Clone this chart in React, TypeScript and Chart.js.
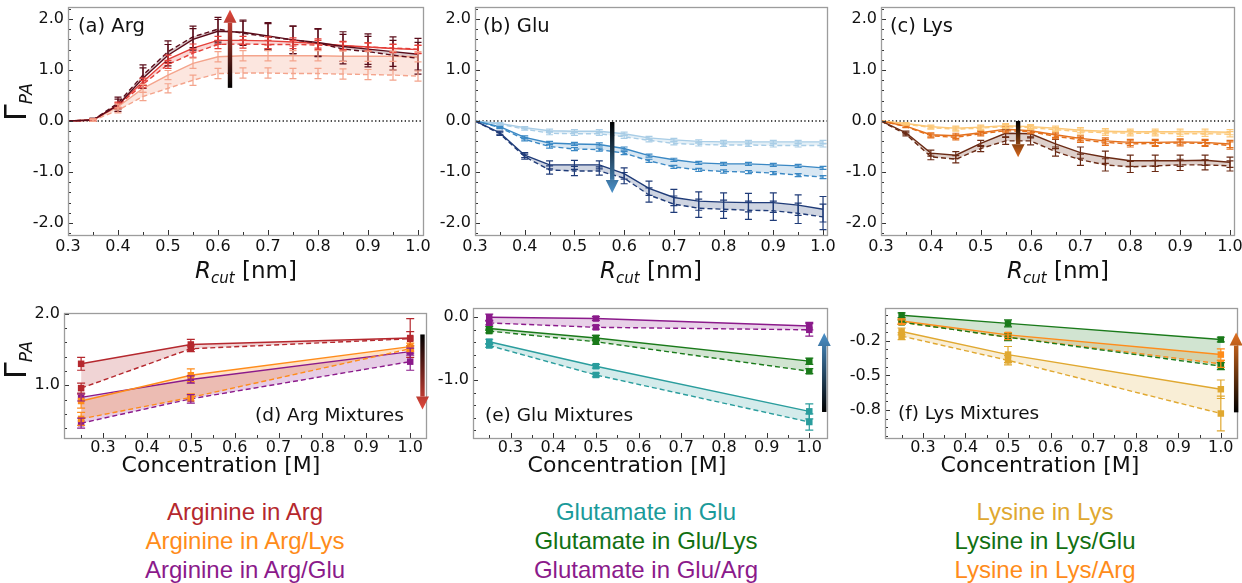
import React, { useEffect, useRef } from "react";
import { Chart, registerables } from "chart.js";

Chart.register(...registerables);

const TICK_FONT = "'DejaVu Sans', 'Liberation Sans', sans-serif";
const LEGEND_FONT = "'Liberation Sans', Arial, sans-serif";

// ---------------- data: panels (a)-(c), Gamma_PA vs R_cut ----------------
const rcut = [0.3, 0.35, 0.4, 0.45, 0.5, 0.55, 0.6, 0.65, 0.7, 0.75, 0.8, 0.85, 0.9, 0.95, 1.0];
const rcutTickLabels = [0.3, 0.4, 0.5, 0.6, 0.7, 0.8, 0.9, 1.0];
const gammaTickLabels = [-2.0, -1.0, 0.0, 1.0, 2.0];

// (a) Arg
const argLowSolid = [0, 0.02, 0.28, 0.64, 0.9, 1.13, 1.26, 1.28, 1.28, 1.28, 1.28, 1.27, 1.27, 1.27, 1.26];
const argLowDashed = [0, 0.01, 0.21, 0.48, 0.64, 0.8, 0.93, 0.94, 0.94, 0.93, 0.93, 0.92, 0.91, 0.9, 0.88];
const argLowErr = [0, 0.02, 0.05, 0.08, 0.09, 0.1, 0.1, 0.1, 0.1, 0.1, 0.1, 0.1, 0.1, 0.1, 0.1];
const argMidSolid = [0, 0.02, 0.32, 0.77, 1.21, 1.43, 1.58, 1.58, 1.57, 1.55, 1.52, 1.48, 1.45, 1.42, 1.4];
const argMidDashed = [0, 0.02, 0.3, 0.72, 1.11, 1.33, 1.5, 1.51, 1.5, 1.5, 1.49, 1.47, 1.45, 1.43, 1.41];
const argMidErr = [0, 0.02, 0.05, 0.07, 0.08, 0.08, 0.08, 0.08, 0.08, 0.08, 0.09, 0.08, 0.08, 0.08, 0.08];
const argHighSolid = [0, 0.02, 0.31, 0.84, 1.29, 1.6, 1.76, 1.74, 1.67, 1.59, 1.54, 1.46, 1.41, 1.36, 1.31];
const argHighDashed = [0, 0.02, 0.35, 0.9, 1.36, 1.65, 1.8, 1.72, 1.65, 1.59, 1.53, 1.41, 1.36, 1.29, 1.23];
const argHighErr = [0, 0.03, 0.12, 0.2, 0.21, 0.21, 0.23, 0.24, 0.26, 0.27, 0.27, 0.29, 0.3, 0.29, 0.31];

// (b) Glu
const gluLowSolid = [0, -0.05, -0.13, -0.19, -0.2, -0.2, -0.25, -0.33, -0.37, -0.4, -0.41, -0.41, -0.41, -0.41, -0.41];
const gluLowDashed = [0, -0.06, -0.16, -0.24, -0.25, -0.25, -0.31, -0.38, -0.44, -0.46, -0.47, -0.47, -0.48, -0.48, -0.48];
const gluLowErr = [0, 0.02, 0.02, 0.03, 0.03, 0.03, 0.03, 0.03, 0.03, 0.03, 0.03, 0.03, 0.03, 0.03, 0.03];
const gluMidSolid = [0, -0.11, -0.32, -0.43, -0.45, -0.46, -0.54, -0.68, -0.76, -0.82, -0.84, -0.84, -0.86, -0.88, -0.92];
const gluMidDashed = [0, -0.13, -0.36, -0.5, -0.55, -0.56, -0.63, -0.78, -0.9, -0.96, -0.99, -1.0, -1.02, -1.06, -1.1];
const gluMidErr = [0, 0.02, 0.03, 0.03, 0.03, 0.03, 0.03, 0.03, 0.03, 0.03, 0.03, 0.03, 0.03, 0.03, 0.03];
const gluHighSolid = [0, -0.23, -0.67, -0.86, -0.86, -0.86, -1.03, -1.32, -1.5, -1.57, -1.59, -1.6, -1.6, -1.65, -1.73];
const gluHighDashed = [0, -0.25, -0.7, -0.96, -0.98, -0.98, -1.12, -1.45, -1.63, -1.71, -1.73, -1.75, -1.76, -1.81, -1.88];
const gluHighErr = [0, 0.03, 0.05, 0.08, 0.09, 0.08, 0.11, 0.14, 0.16, 0.18, 0.18, 0.18, 0.19, 0.2, 0.25];

// (c) Lys
const lysLowSolid = [0, -0.05, -0.11, -0.14, -0.12, -0.09, -0.11, -0.14, -0.18, -0.2, -0.21, -0.21, -0.21, -0.21, -0.22];
const lysLowDashed = [0, -0.06, -0.13, -0.16, -0.14, -0.11, -0.13, -0.17, -0.21, -0.23, -0.24, -0.24, -0.25, -0.25, -0.26];
const lysLowErr = [0, 0.02, 0.03, 0.04, 0.04, 0.04, 0.04, 0.04, 0.05, 0.05, 0.05, 0.05, 0.05, 0.05, 0.05];
const lysMidSolid = [0, -0.1, -0.27, -0.29, -0.23, -0.16, -0.19, -0.27, -0.34, -0.39, -0.42, -0.42, -0.41, -0.42, -0.45];
const lysMidDashed = [0, -0.11, -0.29, -0.32, -0.25, -0.19, -0.21, -0.3, -0.37, -0.42, -0.45, -0.44, -0.43, -0.44, -0.48];
const lysMidErr = [0, 0.02, 0.04, 0.05, 0.04, 0.04, 0.04, 0.05, 0.05, 0.06, 0.06, 0.06, 0.06, 0.06, 0.07];
const lysHighSolid = [0, -0.23, -0.63, -0.67, -0.44, -0.24, -0.25, -0.45, -0.62, -0.71, -0.78, -0.78, -0.78, -0.77, -0.81];
const lysHighDashed = [0, -0.26, -0.7, -0.75, -0.54, -0.39, -0.39, -0.6, -0.76, -0.86, -0.9, -0.88, -0.86, -0.86, -0.88];
const lysHighErr = [0, 0.03, 0.06, 0.07, 0.06, 0.07, 0.08, 0.09, 0.11, 0.12, 0.11, 0.11, 0.11, 0.1, 0.1];

// ---------------- data: panels (d)-(f), Gamma_PA vs concentration ----------------
const concentration = [0.25, 0.5, 1.0];
const concTickLabels = [0.3, 0.4, 0.5, 0.6, 0.7, 0.8, 0.9, 1.0];
const argMixTickLabels = [1.0, 2.0];
const gluMixTickLabels = [-1.0, 0.0];
const lysMixTickLabels = [-0.8, -0.5, -0.2];

// (d) Arg mixtures
const argInArgSolid = [1.3, 1.57, 1.66];
const argInArgSolidErr = [0.09, 0.07, 0.27];
const argInArgDashed = [0.96, 1.51, 1.65];
const argInArgDashedErr = [0.07, 0.04, 0.1];
const argInArgLysSolid = [0.78, 1.14, 1.54];
const argInArgLysSolidErr = [0.1, 0.09, 0.05];
const argInArgLysDashed = [0.53, 0.83, 1.51];
const argInArgLysDashedErr = [0.09, 0.05, 0.04];
const argInArgGluSolid = [0.83, 1.08, 1.47];
const argInArgGluSolidErr = [0.05, 0.05, 0.05];
const argInArgGluDashed = [0.47, 0.81, 1.33];
const argInArgGluDashedErr = [0.07, 0.06, 0.12];

// (e) Glu mixtures
const gluInGluSolid = [-0.39, -0.78, -1.5];
const gluInGluSolidErr = [0.04, 0.03, 0.12];
const gluInGluDashed = [-0.45, -0.92, -1.67];
const gluInGluDashedErr = [0.03, 0.03, 0.13];
const gluInGluLysSolid = [-0.18, -0.33, -0.7];
const gluInGluLysSolidErr = [0.03, 0.04, 0.05];
const gluInGluLysDashed = [-0.22, -0.39, -0.86];
const gluInGluLysDashedErr = [0.03, 0.04, 0.04];
const gluInGluArgSolid = [0.0, -0.02, -0.14];
const gluInGluArgSolidErr = [0.05, 0.03, 0.06];
const gluInGluArgDashed = [-0.09, -0.16, -0.2];
const gluInGluArgDashedErr = [0.03, 0.03, 0.1];

// (f) Lys mixtures
const lysInLysSolid = [-0.12, -0.32, -0.62];
const lysInLysSolidErr = [0.03, 0.07, 0.08];
const lysInLysDashed = [-0.16, -0.37, -0.83];
const lysInLysDashedErr = [0.03, 0.04, 0.15];
const lysInLysGluSolid = [0.02, -0.05, -0.19];
const lysInLysGluSolidErr = [0.02, 0.03, 0.02];
const lysInLysGluDashed = [-0.04, -0.17, -0.42];
const lysInLysGluDashedErr = [0.02, 0.03, 0.03];
const lysInLysArgSolid = [-0.03, -0.15, -0.32];
const lysInLysArgSolidErr = [0.02, 0.02, 0.05];
const lysInLysArgDashed = [-0.04, -0.17, -0.4];
const lysInLysArgDashedErr = [0.02, 0.02, 0.03];

// legend labels
const legendArg = ["Arginine in Arg", "Arginine in Arg/Lys", "Arginine in Arg/Glu"];
const legendGlu = ["Glutamate in Glu", "Glutamate in Glu/Lys", "Glutamate in Glu/Arg"];
const legendLys = ["Lysine in Lys", "Lysine in Lys/Glu", "Lysine in Lys/Arg"];

// ---------------- styles ----------------
const C = {
  argLow: "#f4a48c", argMid: "#e5403a", argHigh: "#5a0c1a",
  gluLow: "#a9cde6", gluMid: "#3a88c4", gluHigh: "#1f3b78",
  lysLow: "#fcc878", lysMid: "#e4701c", lysHigh: "#6a2a14",
  arg: "#b5282e", argLys: "#ff8c1a", argGlu: "#8b1a8b",
  glu: "#2a9d9d", gluLys: "#1a7a1a", gluArg: "#8b1a8b",
  lys: "#e0a830", lysGlu: "#1a7a1a", lysArg: "#ff8c1a",
};
const legendColors = {
  arg: ["#b5282e", "#ff8c1a", "#8b1a8b"],
  glu: ["#1a9a9a", "#127012", "#8b1a8b"],
  lys: ["#e0a830", "#127012", "#ff8c1a"],
};

function rgba(hex: string, a: number) {
  const n = parseInt(hex.slice(1), 16);
  return `rgba(${(n >> 16) & 255},${(n >> 8) & 255},${n & 255},${a})`;
}

type Series = { solid: number[]; dashed: number[]; solidErr: number[]; dashedErr: number[]; color: string; alpha: number };

function pairDatasets(xs: number[], s: Series, markers: boolean) {
  const pts = (ys: number[]) => ys.map((y, i) => ({ x: xs[i], y }));
  const common = {
    borderColor: s.color,
    borderWidth: 1.4,
    tension: 0,
    pointRadius: markers ? 4.6 : 0,
    pointStyle: "rect",
    pointBackgroundColor: s.color,
    pointBorderColor: s.color,
    pointBorderWidth: 0,
    backgroundColor: rgba(s.color, s.alpha),
    errColor: s.color,
  };
  return [
    { ...common, data: pts(s.solid), errors: s.solidErr, fill: "+1" },
    { ...common, data: pts(s.dashed), errors: s.dashedErr, fill: false, borderDash: [5, 3] },
  ];
}

const decorPlugin = {
  id: "decor",
  afterDatasetsDraw(chart: any, _a: any, opts: any) {
    const ctx = chart.ctx;
    const ys = chart.scales.y;
    chart.data.datasets.forEach((ds: any, i: number) => {
      if (!ds.errors) return;
      const meta = chart.getDatasetMeta(i);
      ctx.save();
      ctx.strokeStyle = ds.errColor;
      ctx.lineWidth = 1.2;
      meta.data.forEach((pt: any, j: number) => {
        const e = ds.errors[j];
        if (!e) return;
        const v = ds.data[j].y;
        const y1 = ys.getPixelForValue(v + e);
        const y2 = ys.getPixelForValue(v - e);
        const x = pt.x;
        const c = opts.cap;
        ctx.beginPath();
        ctx.moveTo(x, y1); ctx.lineTo(x, y2);
        ctx.moveTo(x - c, y1); ctx.lineTo(x + c, y1);
        ctx.moveTo(x - c, y2); ctx.lineTo(x + c, y2);
        ctx.stroke();
      });
      ctx.restore();
    });
  },
  afterDraw(chart: any, _a: any, opts: any) {
    const ctx = chart.ctx;
    const { left, right, top, bottom } = chart.chartArea;
    const xs = chart.scales.x, ys = chart.scales.y;
    ctx.save();
    // inner ticks
    ctx.strokeStyle = "#333";
    ctx.lineWidth = 1;
    const near = (v: number, arr: number[]) => arr.some((t) => Math.abs(t - v) < 1e-6);
    ctx.beginPath();
    for (let k = Math.ceil((xs.min - opts.xOrigin) / opts.xMinor - 1e-6); ; k++) {
      const v = opts.xOrigin + k * opts.xMinor;
      if (v > xs.max + 1e-9) break;
      const px = Math.round(xs.getPixelForValue(v)) + 0.5;
      const len = near(v, opts.xMajor) ? 5 : 3;
      ctx.moveTo(px, bottom); ctx.lineTo(px, bottom - len);
    }
    for (let k = Math.ceil((ys.min - opts.yOrigin) / opts.yMinor - 1e-6); ; k++) {
      const v = opts.yOrigin + k * opts.yMinor;
      if (v > ys.max + 1e-9) break;
      const py = Math.round(ys.getPixelForValue(v)) + 0.5;
      const len = near(v, opts.yMajor) ? 5 : 3;
      ctx.moveTo(left, py); ctx.lineTo(left + len, py);
    }
    ctx.stroke();
    // frame
    ctx.strokeStyle = "#9c9c9c";
    ctx.lineWidth = 1.3;
    ctx.strokeRect(Math.round(left) + 0.5, Math.round(top) + 0.5, Math.round(right - left), Math.round(bottom - top));
    // arrow
    const a = opts.arrow;
    if (a) {
      const px = xs.getPixelForValue(a.x);
      const y0 = ys.getPixelForValue(a.y0);
      const y1 = ys.getPixelForValue(a.y1);
      const dir = Math.sign(y1 - y0);
      const g = ctx.createLinearGradient(px, y0, px, y1);
      g.addColorStop(0, a.c0);
      g.addColorStop(1, a.c1);
      ctx.fillStyle = g;
      const hl = 13, hw = 6.5, sw = 2.2;
      const yb = y1 - dir * hl;
      ctx.fillRect(px - sw, Math.min(y0, yb), 2 * sw, Math.abs(yb - y0));
      ctx.beginPath();
      ctx.moveTo(px - hw, yb); ctx.lineTo(px + hw, yb); ctx.lineTo(px, y1);
      ctx.closePath();
      ctx.fill();
    }
    ctx.restore();
  },
};

type PanelSpec = {
  L: number; T: number; R: number; B: number;
  xMin: number; xMax: number; yMin: number; yMax: number;
  xTicks: number[]; yTicks: number[];
  xMinor: number; yMinor: number; xOrigin: number; yOrigin: number;
  xs: number[]; series: Series[]; markers: boolean; zero: boolean;
  arrow: any; xPad: number; cap: number;
};

const Y_AXIS_W = 56, PAD_TOP = 16, PAD_RIGHT = 22, X_AXIS_H = 30;

function makeConfig(p: PanelSpec) {
  const datasets: any[] = [];
  p.series.forEach((s) => datasets.push(...pairDatasets(p.xs, s, p.markers)));
  if (p.zero) {
    datasets.push({
      data: [{ x: p.xMin, y: 0 }, { x: p.xMax, y: 0 }],
      borderColor: "#111", borderWidth: 1.3, borderDash: [1.3, 2.4], pointRadius: 0, fill: false,
    });
  }
  const tickFont = { family: TICK_FONT, size: 16 };
  return {
    type: "line",
    data: { datasets },
    options: {
      animation: false,
      responsive: false,
      devicePixelRatio: 1,
      layout: { padding: { top: PAD_TOP, right: PAD_RIGHT, left: 0, bottom: 0 } },
      plugins: {
        legend: { display: false },
        tooltip: { enabled: false },
        filler: { drawTime: "beforeDatasetsDraw" },
        decor: {
          cap: p.cap, arrow: p.arrow,
          xMinor: p.xMinor, yMinor: p.yMinor, xOrigin: p.xOrigin, yOrigin: p.yOrigin,
          xMajor: p.xTicks, yMajor: p.yTicks,
        },
      },
      scales: {
        x: {
          type: "linear", min: p.xMin, max: p.xMax,
          grid: { display: false, drawTicks: false }, border: { display: false },
          ticks: { font: tickFont, color: "#111", padding: p.xPad, autoSkip: false, maxRotation: 0,
            callback: (v: any) => Number(v).toFixed(1) },
          afterBuildTicks: (s: any) => { s.ticks = p.xTicks.map((value) => ({ value })); },
          afterFit: (s: any) => { s.height = X_AXIS_H; },
        },
        y: {
          type: "linear", min: p.yMin, max: p.yMax,
          grid: { display: false, drawTicks: false }, border: { display: false },
          ticks: { font: tickFont, color: "#111", padding: 4, autoSkip: false,
            callback: (v: any) => Number(v).toFixed(1) },
          afterBuildTicks: (s: any) => { s.ticks = p.yTicks.map((value) => ({ value })); },
          afterFit: (s: any) => { s.width = Y_AXIS_W; },
        },
      },
    },
    plugins: [decorPlugin],
  };
}

const ser = (solid: number[], dashed: number[], solidErr: number[], dashedErr: number[], color: string, alpha: number): Series =>
  ({ solid, dashed, solidErr, dashedErr, color, alpha });

const topCommon = {
  T: 7, B: 235, yMin: -2.235, yMax: 2.235, xTicks: rcutTickLabels, yTicks: gammaTickLabels,
  xMinor: 0.05, yMinor: 0.2, xOrigin: 0.3, yOrigin: 0, xs: rcut, markers: false, zero: true, xPad: 2, cap: 3.5,
};
const botCommon = {
  B: 438, xTicks: concTickLabels, xMinor: 0.05, xOrigin: 0.3, xs: concentration, markers: true, zero: false, xPad: 0, cap: 4,
};

const panels: PanelSpec[] = [
  { ...topCommon, L: 68, R: 423, xMin: 0.3, xMax: 1.01,
    series: [
      ser(argHighSolid, argHighDashed, argHighErr, argHighErr, C.argHigh, 0.22),
      ser(argMidSolid, argMidDashed, argMidErr, argMidErr, C.argMid, 0.2),
      ser(argLowSolid, argLowDashed, argLowErr, argLowErr, C.argLow, 0.28),
    ],
    arrow: { x: 0.624, y0: 0.65, y1: 2.18, c0: "#000000", c1: "#e2483c" } } as PanelSpec,
  { ...topCommon, L: 475, R: 827, xMin: 0.3, xMax: 1.008,
    series: [
      ser(gluHighSolid, gluHighDashed, gluHighErr, gluHighErr, C.gluHigh, 0.22),
      ser(gluMidSolid, gluMidDashed, gluMidErr, gluMidErr, C.gluMid, 0.2),
      ser(gluLowSolid, gluLowDashed, gluLowErr, gluLowErr, C.gluLow, 0.3),
    ],
    arrow: { x: 0.576, y0: -0.02, y1: -1.41, c0: "#000000", c1: "#4a90c8" } } as PanelSpec,
  { ...topCommon, L: 881, R: 1234, xMin: 0.3, xMax: 1.008,
    series: [
      ser(lysHighSolid, lysHighDashed, lysHighErr, lysHighErr, C.lysHigh, 0.22),
      ser(lysMidSolid, lysMidDashed, lysMidErr, lysMidErr, C.lysMid, 0.2),
      ser(lysLowSolid, lysLowDashed, lysLowErr, lysLowErr, C.lysLow, 0.3),
    ],
    arrow: { x: 0.575, y0: 0.0, y1: -0.71, c0: "#000000", c1: "#d8681c" } } as PanelSpec,
  { ...botCommon, L: 64, R: 426, T: 313, xMin: 0.211, xMax: 1.036, yMin: 0.263, yMax: 2.01,
    yTicks: argMixTickLabels, yMinor: 0.2, yOrigin: 0,
    series: [
      ser(argInArgSolid, argInArgDashed, argInArgSolidErr, argInArgDashedErr, C.arg, 0.2),
      ser(argInArgLysSolid, argInArgLysDashed, argInArgLysSolidErr, argInArgLysDashedErr, C.argLys, 0.25),
      ser(argInArgGluSolid, argInArgGluDashed, argInArgGluSolidErr, argInArgGluDashedErr, C.argGlu, 0.22),
    ],
    arrow: { x: 1.028, y0: 1.71, y1: 0.66, c0: "#000000", c1: "#e2483c" } } as PanelSpec,
  { ...botCommon, L: 473, R: 827, T: 308, xMin: 0.212, xMax: 1.0415, yMin: -1.925, yMax: 0.148,
    yTicks: gluMixTickLabels, yMinor: 0.2, yOrigin: 0,
    series: [
      ser(gluInGluArgSolid, gluInGluArgDashed, gluInGluArgSolidErr, gluInGluArgDashedErr, C.gluArg, 0.2),
      ser(gluInGluLysSolid, gluInGluLysDashed, gluInGluLysSolidErr, gluInGluLysDashedErr, C.gluLys, 0.2),
      ser(gluInGluSolid, gluInGluDashed, gluInGluSolidErr, gluInGluDashedErr, C.glu, 0.2),
    ],
    arrow: { x: 1.035, y0: -1.51, y1: -0.25, c0: "#000000", c1: "#4a90c8" } } as PanelSpec,
  { ...botCommon, L: 885, R: 1237, T: 308, xMin: 0.211, xMax: 1.038, yMin: -1.042, yMax: 0.083,
    yTicks: lysMixTickLabels, yMinor: 0.075, yOrigin: -0.2,
    series: [
      ser(lysInLysGluSolid, lysInLysGluDashed, lysInLysGluSolidErr, lysInLysGluDashedErr, C.lysGlu, 0.2),
      ser(lysInLysArgSolid, lysInLysArgDashed, lysInLysArgSolidErr, lysInLysArgDashedErr, C.lysArg, 0.2),
      ser(lysInLysSolid, lysInLysDashed, lysInLysSolidErr, lysInLysDashedErr, C.lys, 0.2),
    ],
    arrow: { x: 1.036, y0: -0.82, y1: -0.13, c0: "#000000", c1: "#e07020" } } as PanelSpec,
];

function Panel({ spec }: { spec: PanelSpec }) {
  const ref = useRef<HTMLCanvasElement | null>(null);
  const w = Y_AXIS_W + (spec.R - spec.L) + PAD_RIGHT;
  const h = PAD_TOP + (spec.B - spec.T) + X_AXIS_H;
  useEffect(() => {
    if (!ref.current) return;
    const chart = new Chart(ref.current, makeConfig(spec) as any);
    return () => chart.destroy();
  }, []);
  return (
    <canvas
      ref={ref}
      width={w}
      height={h}
      style={{ position: "absolute", left: spec.L - Y_AXIS_W, top: spec.T - PAD_TOP, width: w, height: h }}
    />
  );
}

function Txt(props: { x: number; cy: number; fs: number; align?: string; color?: string; family?: string; children: any }) {
  const { x, cy, fs, align = "left", color = "#111", family = TICK_FONT, children } = props;
  const tx = align === "center" ? "translateX(-50%)" : align === "right" ? "translateX(-100%)" : "none";
  return (
    <div style={{ position: "absolute", left: x, top: cy - 0.49 * fs, fontSize: fs, lineHeight: `${fs}px`,
      fontFamily: family, color, whiteSpace: "nowrap", transform: tx }}>
      {children}
    </div>
  );
}

function RcutTitle({ cx }: { cx: number }) {
  return (
    <Txt x={cx} cy={270} fs={23} align="center">
      <i>R</i>
      <span style={{ fontSize: 15, fontStyle: "italic", position: "relative", top: 5 }}>cut</span> [nm]
    </Txt>
  );
}

function GammaTitle({ cy }: { cy: number }) {
  return (
    <div style={{ position: "absolute", left: 18, top: cy, transform: "translate(-50%,-50%) rotate(-90deg)",
      fontFamily: TICK_FONT, fontSize: 30, lineHeight: "30px", whiteSpace: "nowrap", color: "#111" }}>
      Γ<span style={{ fontSize: 17, fontStyle: "italic", position: "relative", top: 6 }}>PA</span>
    </div>
  );
}

function LegendCol({ cx, labels, colors }: { cx: number; labels: string[]; colors: string[] }) {
  const rows = [512, 541, 569.5];
  return (
    <>
      {labels.map((t, i) => (
        <Txt key={t} x={cx} cy={rows[i]} fs={24} align="center" color={colors[i]} family={LEGEND_FONT}>{t}</Txt>
      ))}
    </>
  );
}

export default function App() {
  return (
    <div style={{ position: "absolute", left: 0, top: 0, width: 1242, height: 583, overflow: "hidden", background: "#fff" }}>
      {panels.map((p, i) => <Panel key={i} spec={p} />)}
      <Txt x={78} cy={26} fs={19.5}>(a) Arg</Txt>
      <Txt x={483} cy={26} fs={19.5}>(b) Glu</Txt>
      <Txt x={890} cy={26} fs={19.5}>(c) Lys</Txt>
      <Txt x={255} cy={415} fs={18.5}>(d) Arg Mixtures</Txt>
      <Txt x={485} cy={415} fs={18.5}>(e) Glu Mixtures</Txt>
      <Txt x={898} cy={413} fs={18.5}>(f) Lys Mixtures</Txt>
      <RcutTitle cx={246} />
      <RcutTitle cx={651} />
      <RcutTitle cx={1058} />
      <Txt x={221} cy={465} fs={22} align="center">Concentration [M]</Txt>
      <Txt x={627} cy={465} fs={22} align="center">Concentration [M]</Txt>
      <Txt x={1040} cy={465} fs={22} align="center">Concentration [M]</Txt>
      <GammaTitle cy={102} />
      <GammaTitle cy={360} />
      <LegendCol cx={245} labels={legendArg} colors={legendColors.arg} />
      <LegendCol cx={646} labels={legendGlu} colors={legendColors.glu} />
      <LegendCol cx={1045} labels={legendLys} colors={legendColors.lys} />
    </div>
  );
}
